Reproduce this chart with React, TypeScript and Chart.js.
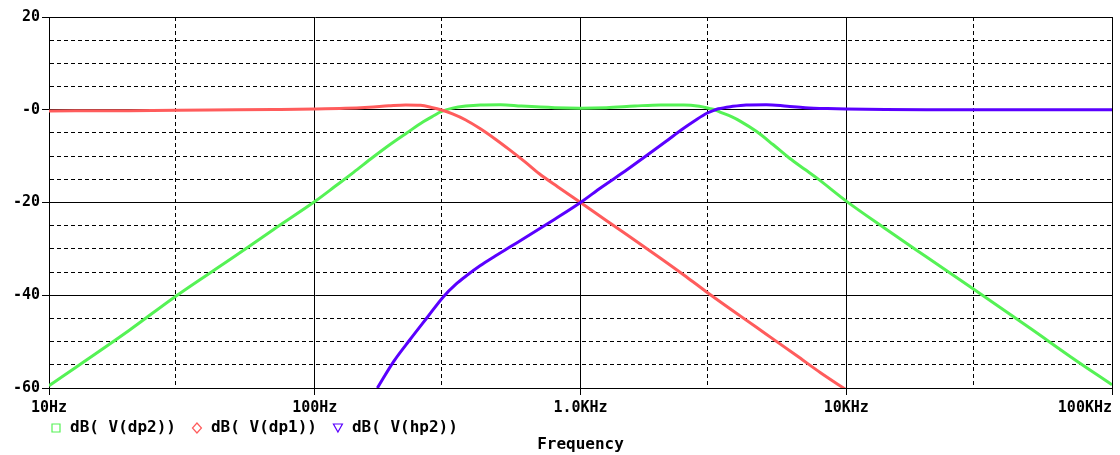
import React, { useEffect, useRef } from 'react';
import { Chart, registerables } from 'chart.js';

Chart.register(...registerables);

// ---- data ----
const xGridValues = [10, 30, 100, 300, 1000, 3000, 10000, 30000, 100000];
const xLabelValues = [10, 100, 1000, 10000, 100000];
const xLabelTexts = ['10Hz', '100Hz', '1.0KHz', '10KHz', '100KHz'];

const yLabelValues = [20, 0, -20, -40, -60];
const yLabelTexts = ['20', '-0', '-20', '-40', '-60'];

const seriesNames = ['dB( V(dp2))', 'dB( V(dp1))', 'dB( V(hp2))'];
const seriesColors = ['#55f255', '#ff5c5c', '#5a00ff'];
const axisTitle = 'Frequency';

const dp2Freq = [10, 20, 30, 50, 70, 100, 120, 140, 166, 192, 222, 256, 280, 300, 330, 370, 420, 500, 600, 800, 1000, 1250, 1600, 2000, 2450, 2800, 3050, 3200, 3350, 3700, 4000, 4600, 5300, 6100, 7000, 7740, 10000, 14000, 20000, 30000, 50000, 70000, 100000];
const dp2Db = [-59.5, -47.6, -40.2, -31.6, -25.8, -19.8, -16.4, -13.5, -10.2, -7.5, -5.0, -2.6, -1.3, -0.35, 0.35, 0.8, 1.05, 1.1, 0.8, 0.45, 0.35, 0.45, 0.8, 1.05, 1.05, 0.75, 0.3, 0.0, -0.5, -1.5, -2.5, -4.7, -7.5, -10.4, -12.9, -14.7, -19.7, -25.6, -31.7, -38.6, -47.4, -53.3, -59.3];

const dp1Freq = [10, 20, 40, 70, 100, 130, 160, 190, 220, 250, 275, 300, 330, 370, 420, 480, 540, 620, 700, 820, 1000, 1250, 1500, 2000, 2500, 3000, 4000, 5000, 6500, 8000, 10000];
const dp1Db = [-0.25, -0.2, -0.05, 0.05, 0.15, 0.3, 0.55, 0.85, 1.05, 0.95, 0.5, -0.05, -0.9, -2.2, -4.1, -6.4, -8.6, -11.3, -13.8, -16.6, -20.0, -23.9, -27.0, -32.0, -36.0, -39.4, -44.5, -48.4, -53.0, -56.7, -60.4];

const hp2Freq = [172, 198, 228, 264, 305, 340, 372, 420, 470, 550, 627, 800, 1000, 1200, 1500, 1800, 2100, 2400, 2700, 3000, 3200, 3300, 3700, 4200, 5000, 6000, 7000, 8500, 10000, 14000, 20000, 100000];
const hp2Db = [-60, -54.3, -49.6, -44.9, -40.3, -37.6, -35.8, -33.6, -31.8, -29.4, -27.4, -23.6, -20.0, -16.7, -12.9, -9.6, -6.8, -4.3, -2.3, -0.7, -0.05, 0.2, 0.7, 1.05, 1.1, 0.75, 0.45, 0.25, 0.15, 0.05, 0, 0];

const FONT = '"DejaVu Sans Mono", "Liberation Mono", monospace';

const isDecade = (v: number) => Math.abs(Math.log10(v) - Math.round(Math.log10(v))) < 1e-6;

const toPoints = (fs: number[], ds: number[]) => fs.map((f, i) => ({ x: f, y: ds[i] }));

const overlayPlugin = {
  id: 'overlay',
  afterDraw(chart: any) {
    const { ctx, chartArea, scales } = chart;
    const xs = scales.x;
    ctx.save();
    ctx.fillStyle = '#000';
    ctx.textBaseline = 'middle';
    ctx.textAlign = 'left';
    // x tick labels
    ctx.font = `bold 15px ${FONT}`;
    xLabelValues.forEach((v, i) => {
      const px = xs.getPixelForValue(v);
      const t = xLabelTexts[i];
      const w = ctx.measureText(t).width;
      let x = px - w / 2;
      if (x + w > chartArea.right) x = chartArea.right - w;
      ctx.fillText(t, x, chartArea.bottom + 20);
    });
    // legend
    ctx.font = `bold 16px ${FONT}`;
    let x0 = chartArea.left + 7;
    const ly = chartArea.bottom + 40;
    seriesNames.forEach((name, i) => {
      ctx.strokeStyle = seriesColors[i];
      ctx.lineWidth = 1.2;
      ctx.beginPath();
      if (i === 0) {
        ctx.rect(x0 - 4, ly - 4, 8, 8);
      } else if (i === 1) {
        ctx.moveTo(x0, ly - 5);
        ctx.lineTo(x0 + 4.5, ly);
        ctx.lineTo(x0, ly + 5);
        ctx.lineTo(x0 - 4.5, ly);
        ctx.closePath();
      } else {
        ctx.moveTo(x0 - 4.5, ly - 4);
        ctx.lineTo(x0 + 4.5, ly - 4);
        ctx.lineTo(x0, ly + 4);
        ctx.closePath();
      }
      ctx.stroke();
      ctx.fillStyle = '#000';
      ctx.fillText(name, x0 + 14, ly);
      const w = ctx.measureText(name).width;
      x0 = x0 + 14 + w + 21;
    });
    // axis title
    ctx.textAlign = 'center';
    ctx.fillText(axisTitle, (chartArea.left + chartArea.right) / 2, chartArea.bottom + 57);
    ctx.restore();
  },
};

export default function App() {
  const ref = useRef<HTMLCanvasElement>(null);
  useEffect(() => {
    const chart = new Chart(ref.current as HTMLCanvasElement, {
      type: 'line',
      data: {
        datasets: [
          { label: seriesNames[0], data: toPoints(dp2Freq, dp2Db), borderColor: seriesColors[0], order: 3 },
          { label: seriesNames[1], data: toPoints(dp1Freq, dp1Db), borderColor: seriesColors[1], order: 2 },
          { label: seriesNames[2], data: toPoints(hp2Freq, hp2Db), borderColor: seriesColors[2], order: 1 },
        ].map((d) => ({
          ...d,
          borderWidth: 3,
          pointRadius: 0,
          fill: false,
          cubicInterpolationMode: 'monotone' as const,
        })),
      },
      options: {
        animation: false,
        responsive: true,
        maintainAspectRatio: false,
        events: [],
        layout: { padding: { top: 17, right: 8, left: 0, bottom: 0 } },
        plugins: { legend: { display: false }, tooltip: { enabled: false } },
        scales: {
          x: {
            type: 'logarithmic',
            min: 10,
            max: 100000,
            afterBuildTicks: (axis: any) => {
              axis.ticks = xGridValues.map((v) => ({ value: v }));
            },
            afterFit: (scale: any) => {
              scale.height = 67;
            },
            ticks: { display: false },
            grid: {
              color: '#000',
              lineWidth: 1,
              drawTicks: true,
              tickLength: 7,
              tickColor: (c: any) => (c.tick && isDecade(c.tick.value) ? '#000' : 'rgba(0,0,0,0)'),
            },
            border: {
              display: true,
              color: '#000',
              width: 1,
              dash: (c: any) => (c.tick && !isDecade(c.tick.value) ? [4, 3] : []),
            },
          },
          y: {
            type: 'linear',
            min: -60,
            max: 20,
            afterFit: (scale: any) => {
              scale.width = 49;
            },
            ticks: {
              stepSize: 5,
              autoSkip: false,
              color: '#000',
              padding: 2,
              font: { family: FONT, weight: 'bold', size: 15 },
              callback: (v: any) => {
                const idx = yLabelValues.indexOf(Number(v));
                return idx >= 0 ? yLabelTexts[idx] : '';
              },
            },
            grid: {
              color: '#000',
              lineWidth: 1,
              drawTicks: true,
              tickLength: 7,
              tickColor: (c: any) => (c.tick && c.tick.value % 20 === 0 ? '#000' : 'rgba(0,0,0,0)'),
            },
            border: {
              display: true,
              color: '#000',
              width: 1,
              dash: (c: any) => (c.tick && c.tick.value % 20 !== 0 ? [4, 3] : []),
            },
          },
        },
      } as any,
      plugins: [overlayPlugin],
    });
    return () => chart.destroy();
  }, []);
  return (
    <div style={{ position: 'fixed', left: 0, top: 0, width: 1120, height: 455, background: '#fff' }}>
      <canvas ref={ref} />
    </div>
  );
}
